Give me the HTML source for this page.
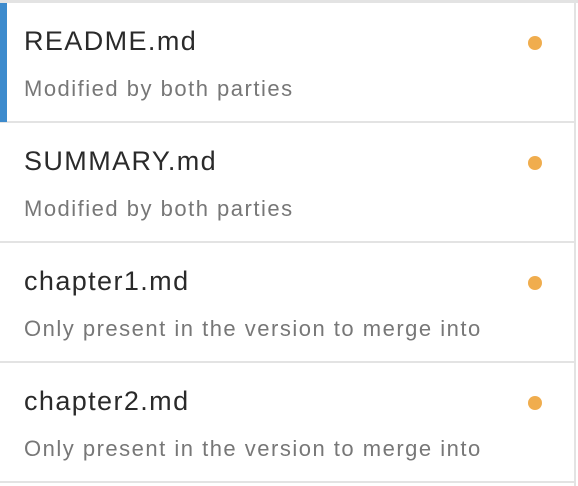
<!DOCTYPE html>
<html><head><style>
body{margin:0;width:578px;height:486px;background:#fff;position:relative;overflow:hidden;font-family:"Liberation Sans",sans-serif;}
.top{position:absolute;left:0;top:0;width:578px;height:3px;background:#e3e3e3;}
.rb{position:absolute;left:574px;top:0;width:2px;height:486px;background:#e3e3e3;}
.row{position:absolute;left:0;width:574px;height:118px;border-bottom:2px solid #e3e3e3;}
.t{position:absolute;left:24px;top:22px;font-size:27px;letter-spacing:1.4px;color:#2a2a2a;line-height:32px;}
.s{position:absolute;left:24px;top:73px;font-size:22px;letter-spacing:1.5px;color:#777;line-height:26px;}
.d{position:absolute;left:528px;top:33px;width:14px;height:14px;border-radius:50%;background:#f0ad4e;}
.bar{position:absolute;left:0;top:3px;width:7px;height:119px;background:#3d8bcd;}
</style></head><body>
<div class="top"></div>
<div class="row" style="top:3px"><div class="t">README.md</div><div class="s">Modified by both parties</div><div class="d"></div></div>
<div class="row" style="top:123px"><div class="t">SUMMARY.md</div><div class="s">Modified by both parties</div><div class="d"></div></div>
<div class="row" style="top:243px"><div class="t">chapter1.md</div><div class="s">Only present in the version to merge into</div><div class="d"></div></div>
<div class="row" style="top:363px"><div class="t">chapter2.md</div><div class="s">Only present in the version to merge into</div><div class="d"></div></div>
<div class="bar"></div>
<div class="rb"></div>
</body></html>
